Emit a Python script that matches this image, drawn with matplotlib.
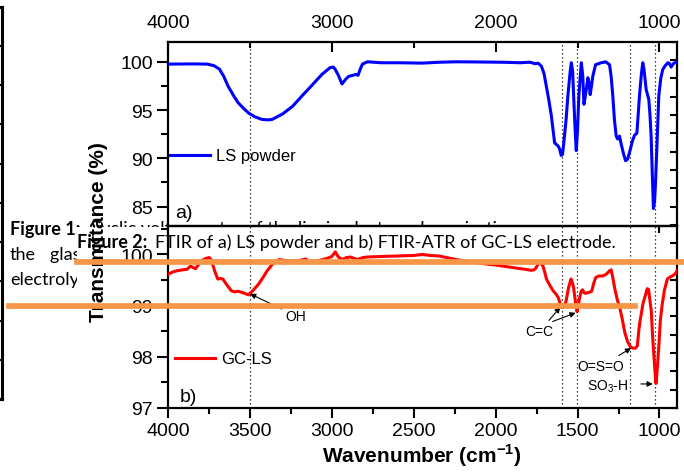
import numpy as np
import matplotlib.pyplot as plt
from matplotlib.patches import Rectangle
from matplotlib.lines import Line2D

plt.rcParams['font.family'] = ['Liberation Sans', 'DejaVu Sans']
plt.rcParams['mathtext.fontset'] = 'custom'
plt.rcParams['mathtext.rm'] = 'Liberation Sans'
plt.rcParams['mathtext.bf'] = 'Liberation Sans:bold'

# a) LS powder (blue)
ls_wn = [4000, 3850, 3761, 3720, 3686, 3660, 3634, 3600, 3572, 3540, 3509, 3470, 3426, 3390,
         3364, 3300, 3239, 3180, 3114, 3060, 3010, 2990, 2979, 2960, 2938, 2915, 2896, 2870,
         2854, 2840, 2825, 2813, 2782, 2700, 2600, 2449, 2350, 2241, 2100, 1950, 1850, 1800,
         1784, 1760, 1740, 1721, 1705, 1691, 1675, 1660, 1650, 1640, 1620, 1610, 1600, 1592,
         1584, 1570, 1559, 1545, 1538, 1530, 1524, 1515, 1508, 1500, 1492, 1477, 1468, 1461,
         1455, 1447, 1437, 1430, 1423, 1415, 1407, 1390, 1356, 1340, 1329, 1305, 1295, 1285,
         1275, 1264, 1255, 1244, 1234, 1220, 1207, 1195, 1183, 1165, 1152, 1138, 1130, 1122,
         1110, 1102, 1095, 1081, 1065, 1058, 1051, 1044, 1037, 1030, 1024, 1015, 1004, 992,
         980, 965, 949, 940, 929, 920, 909, 896]
ls_t = [99.76, 99.78, 99.76, 99.6, 99.24, 98.5, 97.5, 96.5, 95.76, 95.2, 94.7, 94.3, 94.03, 93.98,
        94.03, 94.6, 95.4, 96.5, 97.7, 98.7, 99.4, 99.45, 99.2, 98.6, 97.7, 98.2, 98.5, 98.6,
        98.7, 98.6, 99.3, 99.76, 100.0, 99.9, 99.9, 99.86, 99.95, 100.0, 99.98, 99.95, 99.9, 99.95,
        99.93, 99.8, 99.85, 99.55, 98.8, 97.5, 96.0, 94.4, 93.0, 91.6, 91.3, 91.0, 90.3, 90.4,
        91.6, 94.0, 96.5, 99.0, 99.9, 99.0, 96.5, 93.0, 90.8, 93.0, 96.5, 99.9, 98.5, 95.6,
        96.2, 97.1, 98.35, 97.8, 96.6, 97.5, 98.5, 99.7, 99.9, 99.95, 100.0, 99.7, 98.5, 96.5,
        94.0, 92.3, 92.0, 92.3, 91.5, 90.5, 89.75, 89.9, 90.6, 91.8, 92.4, 92.6, 94.5, 96.5,
        98.8, 99.9, 99.3, 97.1, 96.1, 94.5, 92.3, 88.5, 84.8, 85.5, 87.5, 91.5, 96.5, 98.3,
        99.2, 99.6, 99.9, 99.85, 99.45, 99.7, 99.9, 99.95]

# b) GC-LS electrode (red)
gc_wn = [4000, 3970, 3946, 3910, 3884, 3863, 3845, 3832, 3815, 3800, 3770, 3748, 3738, 3728,
         3712, 3696, 3680, 3665, 3640, 3613, 3595, 3572, 3540, 3509, 3480, 3447, 3420, 3395,
         3360, 3322, 3280, 3239, 3200, 3160, 3135, 3080, 3031, 3000, 2979, 2960, 2938, 2910,
         2886, 2860, 2844, 2810, 2782, 2700, 2600, 2500, 2449, 2400, 2345, 2300, 2241, 2180,
         2116, 2050, 1992, 1930, 1867, 1820, 1784, 1765, 1753, 1740, 1732, 1722, 1711, 1700,
         1690, 1670, 1649, 1630, 1617, 1605, 1595, 1585, 1572, 1555, 1540, 1532, 1524, 1512,
         1503, 1495, 1489, 1478, 1470, 1460, 1451, 1430, 1414, 1400, 1389, 1370, 1347, 1326,
         1305, 1295, 1285, 1274, 1258, 1243, 1228, 1212, 1195, 1177, 1160, 1145, 1135, 1125,
         1118, 1100, 1087, 1075, 1067, 1058, 1050, 1042, 1035, 1027, 1021, 1015, 1004, 995,
         983, 970, 952, 935, 921, 905, 893]
gc_t = [99.61, 99.66, 99.68, 99.70, 99.71, 99.77, 99.74, 99.72, 99.80, 99.87, 99.92, 99.94, 99.90, 99.81,
        99.65, 99.52, 99.53, 99.52, 99.40, 99.29, 99.27, 99.28, 99.25, 99.21, 99.30, 99.42, 99.55, 99.68,
        99.82, 99.90, 99.88, 99.87, 99.88, 99.91, 99.86, 99.88, 99.92, 99.96, 100.05, 99.95, 99.90, 99.94,
        99.95, 99.92, 99.90, 99.94, 99.95, 99.96, 99.97, 99.98, 100.0, 99.98, 99.97, 99.94, 99.90, 99.87,
        99.84, 99.81, 99.79, 99.76, 99.73, 99.71, 99.69, 99.70, 99.74, 99.82, 99.86, 99.82, 99.77, 99.65,
        99.52, 99.40, 99.29, 99.22, 99.15, 99.03, 98.96, 99.00, 99.06, 99.35, 99.52, 99.45, 99.35, 99.05,
        98.88, 99.00, 99.13, 99.28, 99.31, 99.25, 99.24, 99.26, 99.28, 99.45, 99.55, 99.58, 99.58, 99.61,
        99.68, 99.70, 99.55, 99.35, 99.12, 98.97, 98.75, 98.48, 98.30, 98.19, 98.17, 98.17, 98.22, 98.55,
        98.71, 99.05, 99.19, 99.33, 99.32, 99.10, 98.90, 98.40, 98.06, 97.70, 97.48, 97.70, 98.20, 98.70,
        99.03, 99.30, 99.52, 99.56, 99.58, 99.62, 99.68]

band_wn = [3500, 1598, 1506, 1181, 1027]

W, H = 684, 477
def fx(px):
    return px / W
def fy(py):
    return 1 - py / H

fig = plt.figure(figsize=(6.84, 4.77), dpi=100)

L, R = 168, 677
TOP, MID, BOT = 42.7, 227.3, 409

# text of the page behind the chart
cap = ['Lato', 'DejaVu Sans']
fig.text(fx(10), fy(229), 'Figure 1:', family=cap, weight='bold', fontsize=13, va='center', zorder=-2)
fig.text(fx(89), fy(229), 'Cyclic voltammetry of the lignin electropolymerization process on',
         family=cap, fontsize=13, va='center', zorder=-2)
fig.text(fx(10), fy(255), 'the', family=cap, fontsize=13, va='center', zorder=-2)
fig.text(fx(50), fy(255), 'glassy carbon electrode in', family=cap, fontsize=13, va='center', zorder=-2)
fig.text(fx(10), fy(280), 'electrolyte', family=cap, fontsize=13, va='center', zorder=-2)
fig.patches.append(Rectangle((fx(77), 0), 1 - fx(77), fy(227.8), transform=fig.transFigure,
                             facecolor='white', edgecolor='none', zorder=-1))
fig.text(fx(77), fy(243), 'Figure 2:', family=cap, weight='bold', fontsize=13, va='center', zorder=-0.5)
fig.text(fx(155), fy(243), 'FTIR of a) LS powder and b) FTIR-ATR of GC-LS electrode.',
         family=cap, fontsize=13, va='center', zorder=-0.5)

# edge of the neighbouring chart
ax_l = fig.add_axes([fx(-60), fy(400), 62 / W, (400 - 7.5) / H], facecolor='none')
ax_l.set_ylim(0, 10)
ax_l.set_yticks(range(11))
ax_l.set_xticks([])
ax_l.yaxis.tick_right()
ax_l.tick_params(axis='y', direction='in', length=4, width=1.5, labelright=False)
ax_l.spines['left'].set_visible(False)
for s in ['right', 'top', 'bottom']:
    ax_l.spines[s].set_linewidth(2.2)

ax_a = fig.add_axes([fx(L), fy(MID), (R - L) / W, (MID - TOP) / H], facecolor='none')
ax_b = fig.add_axes([fx(L), fy(BOT), (R - L) / W, (BOT - MID) / H], facecolor='none')

ax_a.plot(ls_wn, ls_t, color='#0000ff', lw=2.2, label='LS powder', zorder=3)
ax_b.plot(gc_wn, gc_t, color='#ff0000', lw=2.2, label='GC-LS', zorder=3)

for ax in (ax_a, ax_b):
    ax.set_xlim(4000, 893)
    for w in band_wn:
        ax.axvline(w, color='black', lw=0.9, ls=(0, (1, 2.2)), zorder=2)
    for s in ax.spines.values():
        s.set_linewidth(1.6)
    ax.tick_params(axis='y', which='both', direction='out', left=True, right=False,
                   labelsize=14, pad=3, width=1.5)
    ax.tick_params(axis='y', which='major', length=8)
    ax.tick_params(axis='y', which='minor', length=5)

ax_a.set_ylim(82.96, 102.08)
ax_a.set_yticks([85, 90, 95, 100])
ax_a.set_yticks([87.5, 92.5, 97.5], minor=True)
ax_a.xaxis.tick_top()
ax_a.set_xticks([4000, 3000, 2000, 1000])
ax_a.set_xticks([3500, 2500, 1500], minor=True)
ax_a.tick_params(axis='x', which='both', direction='in', top=True, bottom=False,
                 labeltop=True, labelbottom=False, labelsize=14, pad=8, width=1.5)
ax_a.tick_params(axis='x', which='major', length=7)
ax_a.tick_params(axis='x', which='minor', length=4)

ax_b.set_ylim(97, 100.55)
ax_b.set_yticks([97, 98, 99, 100])
ax_b.set_yticks([97.5, 98.5, 99.5, 100.5], minor=True)
ax_b.set_xticks([4000, 3500, 3000, 2500, 2000, 1500, 1000])
ax_b.set_xticks([3750, 3250, 2750, 2250, 1750, 1250], minor=True)
ax_b.tick_params(axis='x', which='both', direction='out', bottom=True, top=False,
                 labelsize=14, pad=3, width=1.5)
ax_b.tick_params(axis='x', which='major', length=7)
ax_b.tick_params(axis='x', which='minor', length=4)
ax_t = ax_b.secondary_xaxis('top')
ax_t.set_xticks([1000])
ax_t.tick_params(axis='x', direction='in', length=5, width=1.5, labeltop=False)
ax_t.spines['top'].set_visible(False)

# ticks along the right edge
ax_r = fig.add_axes([fx(L), fy(BOT), (R - L) / W, (BOT - TOP) / H], facecolor='none')
ax_r.set_ylim(0, 20)
ax_r.set_yticks(range(21))
ax_r.set_xticks([])
ax_r.yaxis.tick_right()
ax_r.tick_params(axis='y', direction='in', length=5, width=1.5, labelright=False)
for s in ax_r.spines.values():
    s.set_visible(False)

ax_a.legend(loc='center left', bbox_to_anchor=(fx(170), fy(157)), bbox_transform=fig.transFigure,
            frameon=False, fontsize=12, handlelength=2.4, handletextpad=0.35,
            borderpad=0, borderaxespad=0)
ax_b.legend(loc='center left', bbox_to_anchor=(fx(175), fy(360)), bbox_transform=fig.transFigure,
            frameon=False, fontsize=12, handlelength=2.4, handletextpad=0.35,
            borderpad=0, borderaxespad=0)
fig.text(fx(175), fy(214), 'a)', fontsize=14, va='center')
fig.text(fx(180), fy(398), 'b)', fontsize=14, va='center')

arr = dict(arrowstyle='-|>', color='black', lw=0.8, mutation_scale=8, shrinkA=1, shrinkB=0)
ax_b.annotate('OH', xy=(3499, 99.23), xytext=(3218, 98.8), ha='center', va='center',
              fontsize=10, arrowprops=arr)
ax_b.annotate('C=C', xy=(1605, 98.97), xytext=(1732, 98.5), ha='center', va='center',
              fontsize=10, arrowprops=arr)
ax_b.annotate('', xy=(1512, 98.86), xytext=(1660, 98.68), arrowprops=arr)
ax_b.annotate('O=S=O', xy=(1173, 98.17), xytext=(1356, 97.82), ha='center', va='center',
              fontsize=10, arrowprops=arr)
ax_b.text(1315, 97.44, 'SO$_3$-H', ha='center', va='center', fontsize=10)
ax_b.annotate('', xy=(1041, 97.47), xytext=(1122, 97.47), arrowprops=arr)

fig.text(fx(99), fy(232), 'Transmittance (%)', rotation=90, weight='bold', fontsize=15,
         ha='center', va='center')
fig.text(fx(422), fy(463), r'Wavenumber (cm$^{\mathbf{-1}}$)', weight='bold', fontsize=15,
         ha='center', va='baseline')

# orange marker lines on top
fig.lines.append(Line2D([fx(77), 1], [fy(263), fy(263)], transform=fig.transFigure,
                        color='#f79646', lw=4.1, zorder=5))
fig.lines.append(Line2D([fx(9), fx(635)], [fy(307), fy(307)], transform=fig.transFigure,
                        color='#f79646', lw=4.1, zorder=5))

fig.savefig('out.png', dpi=100)
